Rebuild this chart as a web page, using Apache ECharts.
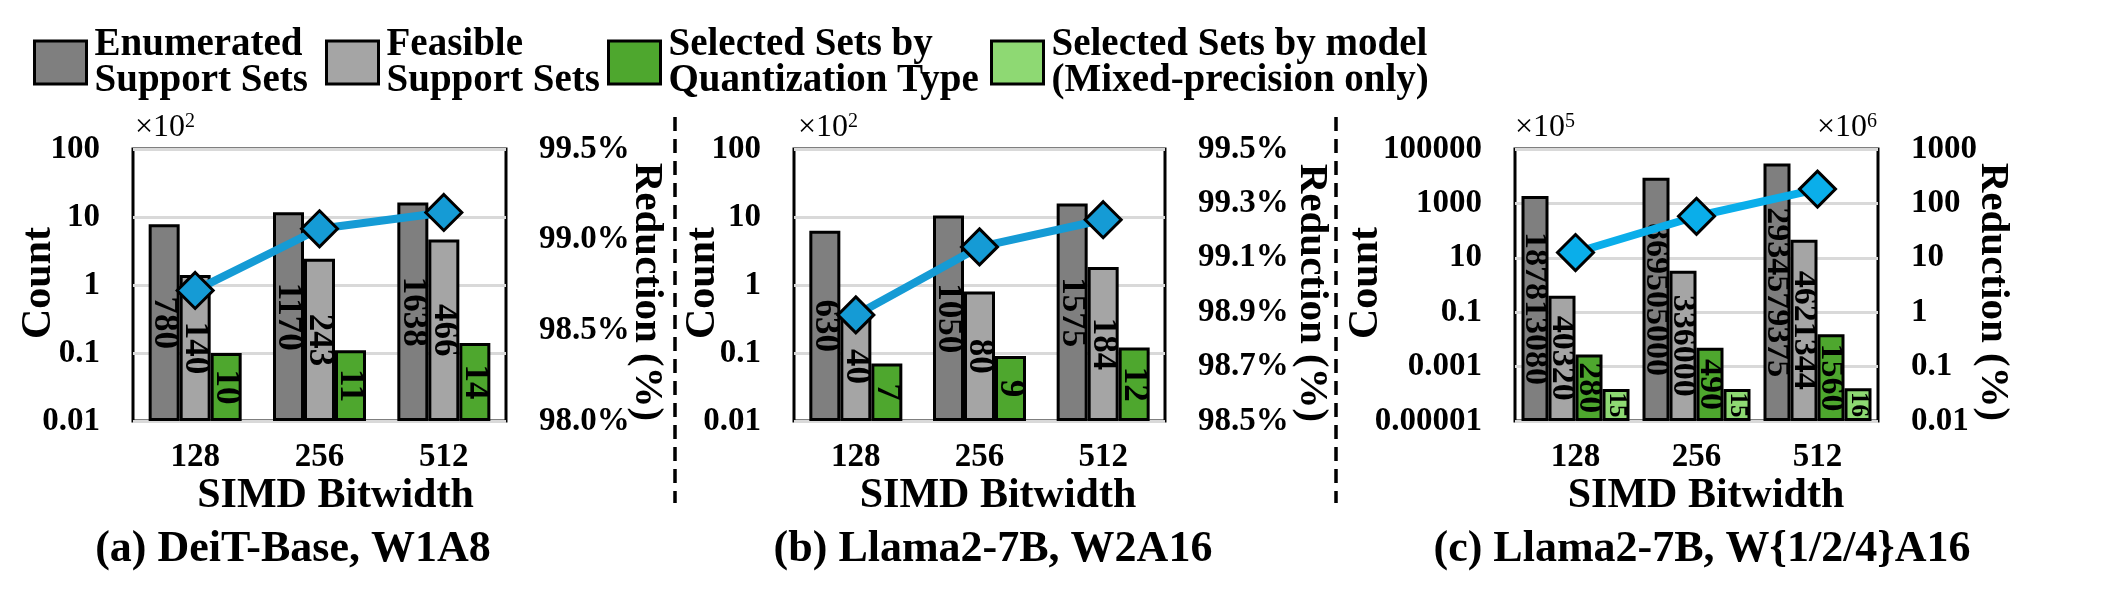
<!DOCTYPE html>
<html><head><meta charset="utf-8">
<script src="https://cdn.jsdelivr.net/npm/echarts@6/dist/echarts.min.js"></script>
<style>html,body{margin:0;padding:0;background:#fff}#c{width:2104px;height:604px}</style>
</head><body><div id="c"></div>
<script>
// ---------- data ----------
const categories = ['128', '256', '512'];
const seriesNames = ['Enumerated\nSupport Sets', 'Feasible\nSupport Sets', 'Selected Sets by\nQuantization Type', 'Selected Sets by model\n(Mixed-precision only)'];
// (a) DeiT-Base, W1A8
const aEnumerated = [780, 1170, 1638];
const aFeasible = [140, 243, 466];
const aSelectedQ = [10, 11, 14];
const aReduction = [98.72, 99.06, 99.15];
// (b) Llama2-7B, W2A16
const bEnumerated = [630, 1050, 1575];
const bFeasible = [40, 80, 184];
const bSelectedQ = [7, 9, 12];
const bReduction = [98.89, 99.14, 99.24];
// (c) Llama2-7B, W{1/2/4}A16
const cEnumerated = [187813080, 869505000, 2934579375];
const cFeasible = [40320, 336000, 4621344];
const cSelectedQ = [280, 490, 1560];
const cSelectedM = [15, 15, 16];
const cReduction = [12.5, 58.0, 183.4]; // x10^6
const captions = ['(a) DeiT-Base, W1A8', '(b) Llama2-7B, W2A16', '(c) Llama2-7B, W{1/2/4}A16'];
const xTitle = 'SIMD Bitwidth';
const yLeftTitle = 'Count';
const yRightTitle = 'Reduction (%)';
const multipliers = [['10', '2'], ['10', '2'], ['10', '5'], ['10', '6']];

// ---------- style ----------
const F = "'Liberation Serif','Times New Roman',serif";
const colors = ['#7f7f7f', '#a5a5a5', '#4ea72e', '#8ed973'];
const blueAB = '#159bd5';
const blueC = '#0aaeea';
const grids = [
  {left: 133, top: 149, width: 373, height: 272},
  {left: 794, top: 149, width: 371, height: 272},
  {left: 1515, top: 149, width: 363, height: 272}
];
const tickFont = {fontSize: 33, fontWeight: 'bold', fontFamily: F, color: '#000'};
const nameFont = {fontSize: 42, fontWeight: 'bold', fontFamily: F, color: '#000'};
const fmt = v => String(Number(v.toPrecision(6)));

const xAxes = grids.map((g, i) => ({
  type: 'category', gridIndex: i, data: categories,
  axisLine: {show: false}, axisTick: {show: false},
  axisLabel: Object.assign({margin: 20}, tickFont),
  name: xTitle, nameLocation: 'middle', nameGap: 54,
  nameTextStyle: Object.assign({padding: [0, 0, 0, [32, 37, 19][i]]}, nameFont)
}));

function leftLog(gi, base, min, max, div) {
  return {
    type: 'log', logBase: base, gridIndex: gi, position: 'left', min: min, max: max,
    axisLine: {show: false}, axisTick: {show: false},
    axisLabel: Object.assign({margin: 33, formatter: v => fmt(v / div)}, tickFont),
    splitLine: {show: true, lineStyle: {color: '#d9d9d9', width: 3}}
  };
}
function rightAxis(gi, extra) {
  return Object.assign({
    gridIndex: gi, position: 'right',
    axisLine: {show: false}, axisTick: {show: false},
    splitLine: {show: false}
  }, extra);
}
const yAxes = [
  leftLog(0, 10, 1, 10000, 100),
  rightAxis(0, {type: 'value', min: 98.0, max: 99.5, interval: 0.5,
    axisLabel: Object.assign({margin: 33, formatter: v => v.toFixed(1) + '%'}, tickFont)}),
  leftLog(1, 10, 1, 10000, 100),
  rightAxis(1, {type: 'value', min: 98.5, max: 99.5, interval: 0.2,
    axisLabel: Object.assign({margin: 33, formatter: v => v.toFixed(1) + '%'}, tickFont)}),
  leftLog(2, 100, 1, 1e10, 1e5),
  rightAxis(2, {type: 'log', logBase: 10, min: 0.01, max: 1000,
    axisLabel: Object.assign({margin: 33, formatter: v => fmt(v)}, tickFont)})
];

function bar(si, data, gi, width, labelSize) {
  return {
    type: 'bar', name: seriesNames[si], xAxisIndex: gi, yAxisIndex: gi * 2, data: data,
    barWidth: width, barGap: '0%',
    itemStyle: {color: colors[si], borderColor: '#000', borderWidth: 3},
    label: {show: true, position: 'inside', rotate: -90, fontSize: labelSize, fontWeight: 'bold',
      fontFamily: F, color: '#000', formatter: p => String(p.value)}
  };
}
function line(data, gi, color) {
  return {
    type: 'line', name: yRightTitle, xAxisIndex: gi, yAxisIndex: gi * 2 + 1, data: data,
    symbol: 'diamond', symbolSize: 36, z: 5,
    lineStyle: {color: color, width: 8},
    itemStyle: {color: color, borderColor: '#000', borderWidth: 3},
    label: {show: false}
  };
}
const series = [
  bar(0, aEnumerated, 0, 31, 35), bar(1, aFeasible, 0, 31, 35), bar(2, aSelectedQ, 0, 31, 35), line(aReduction, 0, blueAB),
  bar(0, bEnumerated, 1, 31, 35), bar(1, bFeasible, 1, 31, 35), bar(2, bSelectedQ, 1, 31, 35), line(bReduction, 1, blueAB),
  bar(0, cEnumerated, 2, 27, 34), bar(1, cFeasible, 2, 27, 34), bar(2, cSelectedQ, 2, 27, 34), bar(3, cSelectedM, 2, 27, 25), line(cReduction, 2, blueC)
];

const legendX = [33, 325, 607, 990];
const legends = seriesNames.map((n, i) => ({
  data: [n], left: legendX[i], top: 25, padding: 0, selectedMode: false,
  itemWidth: 52, itemHeight: 43, icon: 'rect',
  itemStyle: {borderColor: '#000', borderWidth: 3},
  textStyle: {fontSize: 39, fontWeight: 'bold', fontFamily: F, color: '#000', lineHeight: 36, padding: [0, 0, 0, 3]}
}));

const graphics = [];
[675, 1336].forEach(x => graphics.push({
  type: 'line', shape: {x1: x, y1: 117, x2: x, y2: 503},
  style: {stroke: '#000', lineWidth: 3.5, lineDash: [14, 8]}
}));
const capX = [293, 993, 1702];
captions.forEach((t, i) => graphics.push({
  type: 'text', x: capX[i], y: 550,
  style: {text: t, fill: '#000', fontSize: 44, fontWeight: 'bold', fontFamily: F, align: 'center', verticalAlign: 'middle'}
}));
// vertical axis titles
const countPos = [[39, 283], [703, 283], [1366, 283]];
const redPos = [[647, 292], [1312, 293], [1993, 292]];
countPos.forEach(p => graphics.push({
  type: 'text', x: p[0], y: p[1], rotation: Math.PI / 2,
  style: {text: yLeftTitle, fill: '#000', fontSize: 42, fontWeight: 'bold', fontFamily: F, align: 'center', verticalAlign: 'middle'}
}));
redPos.forEach(p => graphics.push({
  type: 'text', x: p[0], y: p[1], rotation: -Math.PI / 2,
  style: {text: yRightTitle, fill: '#000', fontSize: 41, fontWeight: 'bold', fontFamily: F, align: 'center', verticalAlign: 'middle'}
}));
const multPos = [[135, 'left'], [798, 'left'], [1515, 'left'], [1877, 'right']];
multipliers.forEach((m, i) => graphics.push({
  type: 'text', x: multPos[i][0], y: 128,
  style: {
    text: '{a|×' + m[0] + '}{b|' + m[1] + '}', align: multPos[i][1], verticalAlign: 'middle',
    rich: {
      a: {fontSize: 32, fontFamily: F, fill: '#000', lineHeight: 32},
      b: {fontSize: 20, fontFamily: F, fill: '#000', verticalAlign: 'top'}
    }
  }
}));

const chart = echarts.init(document.getElementById('c'), null, {renderer: 'canvas'});
chart.setOption({
  backgroundColor: '#fff',
  animation: false,
  legend: legends,
  grid: grids.map(g => Object.assign({show: true, borderColor: '#000', borderWidth: 3, backgroundColor: 'transparent'}, g)),
  xAxis: xAxes,
  yAxis: yAxes,
  series: series,
  graphic: graphics
});
</script>
</body></html>
